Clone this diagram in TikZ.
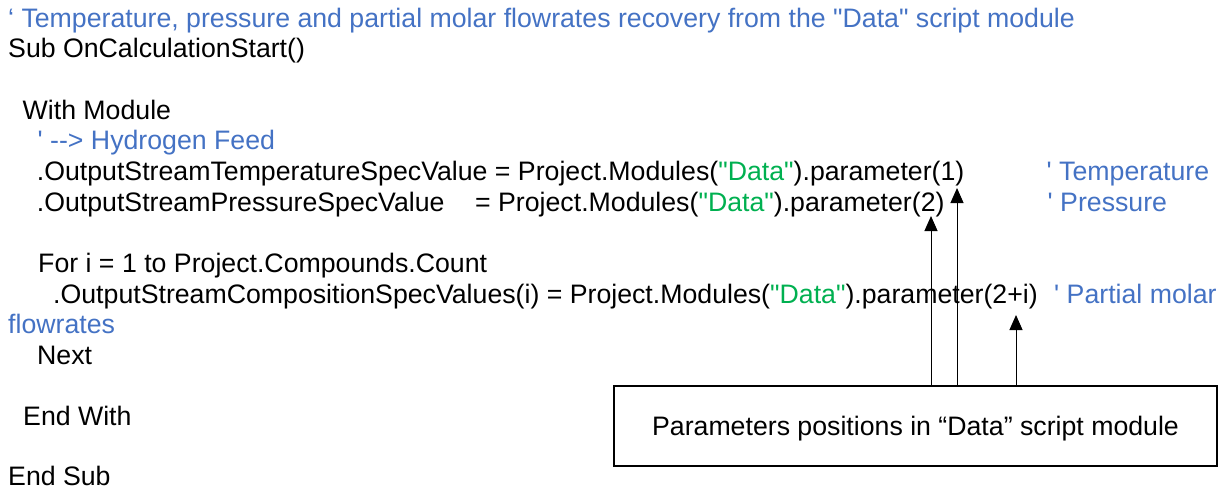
\documentclass[tikz,border=0pt]{standalone}
\usepackage{fontspec}
\setmainfont{Liberation Sans}[Ligatures=TeXOff]
\usetikzlibrary{arrows.meta}
\definecolor{cmtblue}{HTML}{4472C4}
\definecolor{strgreen}{HTML}{00B050}
\newcommand{\str}[1]{\textcolor{strgreen}{#1}}

\begin{document}
\begin{tikzpicture}[x=1pt,y=-1pt,
  code/.style={anchor=base west,inner sep=0pt,font=\fontsize{26.7}{30.7}\selectfont},
  coder/.style={code,anchor=base east},
  cmt/.style={code,text=cmtblue},
  notebox/.style={draw,line width=1.8pt,minimum width=603pt,minimum height=80pt,
    inner sep=0pt,text depth=0pt,font=\fontsize{26.7}{30.7}\selectfont},
  pointer/.style={line width=1pt,-{Triangle[width=13pt,length=15pt]}}]
\useasboundingbox (0,0) rectangle (1230,490);

% VBA listing
\node[cmt] (l1) at (8,27) {‘ Temperature, pressure and partial molar flowrates recovery from the "Data" script module};
\node[code] (l2) at (8,57.7) {Sub OnCalculationStart()};
\node[code] (l4) at (22.5,119) {With Module};
\node[cmt] (l5) at (37.5,149.7) {' --> Hydrogen Feed};
\node[code] (l6) at (36.7,180.3) {.OutputStreamTemperatureSpecValue = Project.Modules(\str{"Data"}).parameter(1)};
\node[cmt] (l6c) at (1046.5,180.3) {' Temperature};
\node[code] (l7a) at (36.7,211) {.OutputStreamPressureSpecValue};
\node[coder] (l7b) at (944.7,211) {= Project.Modules(\str{"Data"}).parameter(2)};
\node[cmt] (l7c) at (1047.5,211) {' Pressure};
\node[code] (l9) at (38,272.3) {For i = 1 to Project.Compounds.Count};
\node[code] (l10) at (53,303) {.OutputStreamCompositionSpecValues(i) = Project.Modules(\str{"Data"}).parameter(2+i)};
\node[cmt] (l10c) at (1054,303) {' Partial molar};
\node[cmt] (l11) at (8,333.7) {flowrates};
\node[code] (l12) at (37,364.3) {Next};
\node[code] (l14) at (23,425.7) {End With};
\node[code] (l16) at (8,485.5) {End Sub};

% note box and its pointers
\node[notebox] (note) at (915.5,426) {Parameters positions in “Data” script module};
\coordinate (p2) at (931,216);
\coordinate (p1) at (957,188);
\coordinate (p3) at (1016,315);
\draw[pointer] (note.north -| p2) -- (p2);
\draw[pointer] (note.north -| p1) -- (p1);
\draw[pointer] (note.north -| p3) -- (p3);
\end{tikzpicture}
\end{document}
